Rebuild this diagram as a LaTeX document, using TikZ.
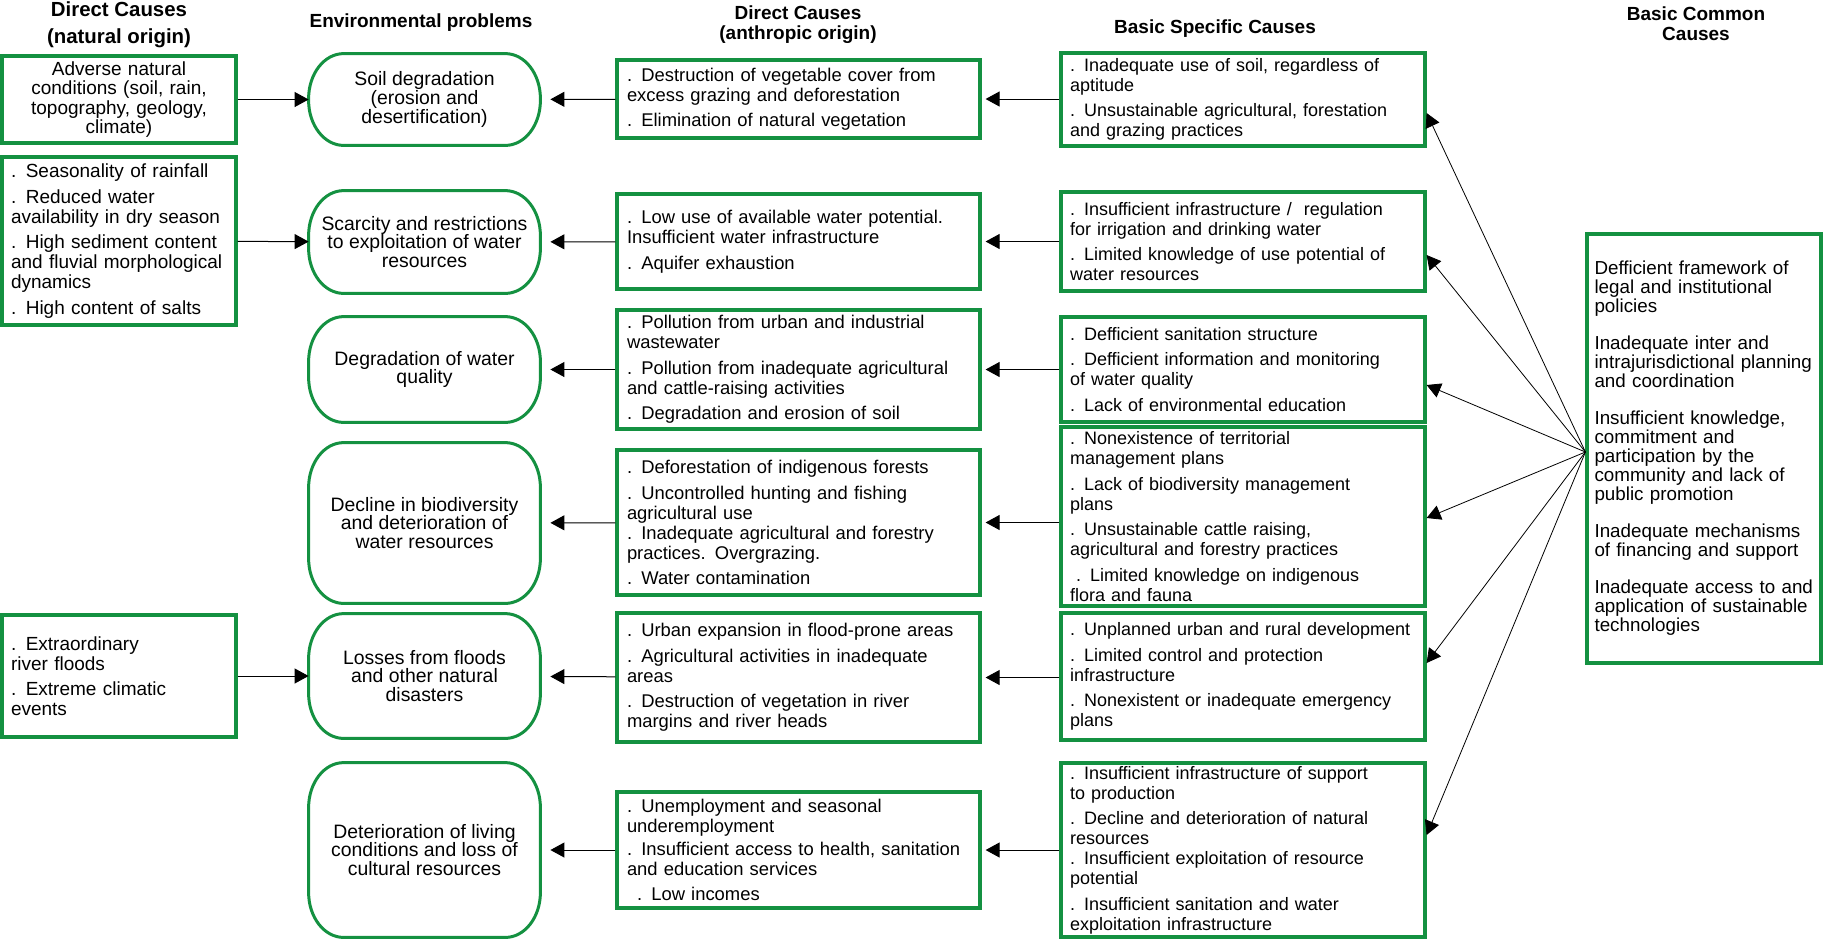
\documentclass[tikz,border=0pt]{standalone}
\usepackage{fontspec}
\setmainfont{Liberation Sans}
\usepackage{xcolor}
\usetikzlibrary{arrows.meta}
\definecolor{boxgreen}{RGB}{20,145,65}
\hyphenpenalty=10000
\exhyphenpenalty=10000

\begin{document}
\begin{tikzpicture}[x=0.5pt,y=-0.5pt,
        greenbox/.style={draw=boxgreen,line width=1.6pt,rectangle,align=left,inner ysep=0pt},
        natbox/.style={greenbox,text width=108pt,inner xsep=4.5pt,font=\fontsize{9.5}{10}\selectfont},
        dirbox/.style={greenbox,text width=171.5pt,inner xsep=5pt,font=\fontsize{9.2}{10}\selectfont},
        specbox/.style={greenbox,text width=173pt,inner xsep=4.5pt,font=\fontsize{9}{10}\selectfont},
        probbox/.style={rectangle,minimum width=115.5pt,inner sep=0pt,align=center,font=\fontsize{9.7}{9.4}\selectfont},
        probline/.style={boxgreen,line width=1.5pt},
        title/.style={font=\fontsize{9.5}{10}\selectfont\bfseries,align=center},
        arr/.style={-{Triangle[length=7pt,width=7.5pt]},line width=0.5pt},
        thinarr/.style={arr,line width=0.4pt}]
        \useasboundingbox (0,0) rectangle (1824,939);

        % column titles
        \node[title,font=\fontsize{10.2}{13.5}\selectfont\bfseries] (t1) at (119,24.5) {Direct Causes\\(natural origin)};
        \node[title] (t2) at (421,23) {Environmental problems};
        \node[title] (t3) at (798,25) {Direct Causes\\(anthropic origin)};
        \node[title] (t4) at (1215,29) {Basic Specific Causes};
        \node[title] (t5) at (1696,23.5) {Basic Common\\Causes};

        % direct causes, natural origin
        \node[natbox,align=center,minimum height=43.5pt,font=\fontsize{9.5}{9.6}\selectfont] (nc1) at (119,99.5) {Adverse natural\\conditions (soil, rain,\\topography, geology,\\climate)};
        \node[natbox,minimum height=84pt] (nc2) at (119,241) {. Seasonality of rainfall\\[2.75pt]. Reduced water\\availability in dry season\\[2.75pt]. High sediment content\\and fluvial morphological\\dynamics\\[2.75pt]. High content of salts};
        \node[natbox,minimum height=61pt] (nc3) at (119,676) {. Extraordinary\\river floods\\[2.75pt]. Extreme climatic\\events};

        % environmental problems
        \node[probbox,minimum height=45.5pt] (ep1) at (424.5,99.5) {Soil degradation\\(erosion and\\desertification)};
        \node[probbox,minimum height=51pt] (ep2) at (424.5,242) {Scarcity and restrictions\\to exploitation of water\\resources};
        \node[probbox,minimum height=52.5pt] (ep3) at (424.5,369.5) {Degradation of water\\quality};
        \node[probbox,minimum height=80pt] (ep4) at (424.5,523) {Decline in biodiversity\\and deterioration of\\water resources};
        \node[probbox,minimum height=62pt] (ep5) at (424.5,676) {Losses from floods\\and other natural\\disasters};
        \node[probbox,minimum height=87pt] (ep6) at (424.5,850) {Deterioration of living\\conditions and loss of\\cultural resources};
        \foreach \p in {ep1,ep2,ep3,ep4,ep5,ep6}
            \draw[probline] ([xshift=17.5pt]\p.north west) -- ([xshift=-17.5pt]\p.north east)
                arc[start angle=90,end angle=0,x radius=17.5pt,y radius=22.5pt]
                -- ([yshift=22.5pt]\p.south east)
                arc[start angle=0,end angle=-90,x radius=17.5pt,y radius=22.5pt]
                -- ([xshift=17.5pt]\p.south west)
                arc[start angle=270,end angle=180,x radius=17.5pt,y radius=22.5pt]
                -- ([yshift=-22.5pt]\p.north west)
                arc[start angle=180,end angle=90,x radius=17.5pt,y radius=22.5pt] -- cycle;

        % direct causes, anthropic origin
        \node[dirbox,minimum height=39pt] (dc1) at (798.5,99) {. Destruction of vegetable cover from\\excess grazing and deforestation\\[2.75pt]. Elimination of natural vegetation};
        \node[dirbox,minimum height=47.5pt] (dc2) at (798.5,241.5) {. Low use of available water potential.\\Insufficient water infrastructure\\[2.75pt]. Aquifer exhaustion};
        \node[dirbox,minimum height=59.5pt] (dc3) at (798.5,369.5) {. Pollution from urban and industrial\\wastewater\\[2.75pt]. Pollution from inadequate agricultural\\and cattle-raising activities\\[2.75pt]. Degradation and erosion of soil};
        \node[dirbox,minimum height=72.5pt] (dc4) at (798.5,522.5) {. Deforestation of indigenous forests\\[2.75pt]. Uncontrolled hunting and fishing\\agricultural use\\. Inadequate agricultural and forestry\\practices. Overgrazing.\\[2.75pt]. Water contamination};
        \node[dirbox,minimum height=64.5pt] (dc5) at (798.5,677.5) {. Urban expansion in flood-prone areas\\[2.75pt]. Agricultural activities in inadequate\\areas\\[2.75pt]. Destruction of vegetation in river\\margins and river heads};
        \node[dirbox,minimum height=58pt] (dc6) at (798.5,850) {. Unemployment and seasonal\\underemployment\\[1.5pt]. Insufficient access to health, sanitation\\and education services\\[2.75pt]\hspace*{5pt}. Low incomes};

        % basic specific causes
        \node[specbox,minimum height=46.5pt] (bsc1) at (1243,99.5) {. Inadequate use of soil, regardless of\\aptitude\\[2.75pt]. Unsustainable agricultural, forestation\\and grazing practices};
        \node[specbox,minimum height=49.5pt] (bsc2) at (1243,241.5) {. Insufficient infrastructure /\ \ regulation\\for irrigation and drinking water\\[2.75pt]. Limited knowledge of use potential of\\water resources};
        \node[specbox,minimum height=52.5pt] (bsc3) at (1243,369.5) {. Defficient sanitation structure\\[2.75pt]. Defficient information and monitoring\\of water quality\\[2.75pt]. Lack of environmental education};
        \node[specbox,minimum height=89.5pt] (bsc4) at (1243,516.5) {. Nonexistence of territorial\\management plans\\[2.75pt]. Lack of biodiversity management\\plans\\[2.75pt]. Unsustainable cattle raising,\\agricultural and forestry practices\\[2.75pt]\hspace*{3pt}. Limited knowledge on indigenous\\flora and fauna};
        \node[specbox,minimum height=63.5pt] (bsc5) at (1243,676.5) {. Unplanned urban and rural development\\[2.75pt]. Limited control and protection\\infrastructure\\[2.75pt]. Nonexistent or inadequate emergency\\plans};
        \node[specbox,minimum height=87pt] (bsc6) at (1243,850) {. Insufficient infrastructure of support\\to production\\[2.75pt]. Decline and deterioration of natural\\resources\\. Insufficient exploitation of resource\\potential\\[2.75pt]. Insufficient sanitation and water\\exploitation infrastructure};

        % basic common causes
        \node[greenbox,text width=109.5pt,inner xsep=3.75pt,minimum height=214.5pt,font=\fontsize{9.4}{9.5}\selectfont] (bcc) at (1704,448.5) {Defficient framework of\\legal and institutional\\policies\\[9pt]Inadequate inter and\\intrajurisdictional planning\\and coordination\\[9pt]Insufficient knowledge,\\commitment and\\participation by the\\community and lack of\\public promotion\\[9pt]Inadequate mechanisms\\of financing and support\\[9pt]Inadequate access to and\\application of sustainable\\technologies};

        % connectors
        \draw[arr] (nc1) -- (ep1);
        \draw[arr] (nc2) -- (ep2);
        \draw[arr] (nc3) -- (ep5);
        \foreach \i in {1,...,6} {
            \draw[arr,shorten >=5pt] (dc\i) -- (ep\i);
            \draw[arr,shorten >=2pt] (bsc\i.west |- dc\i) -- (dc\i);
        }
        \coordinate (hub) at ([yshift=-1.75pt]bcc.west);
        \foreach \b/\s in {bsc1/-6.75pt,bsc2/-6.75pt,bsc3/-7.75pt,bsc4/-0.75pt,bsc5/6.75pt,bsc6/7.5pt}
            \draw[thinarr] (hub) -- ([yshift=\s]\b.east);
\end{tikzpicture}
\end{document}
